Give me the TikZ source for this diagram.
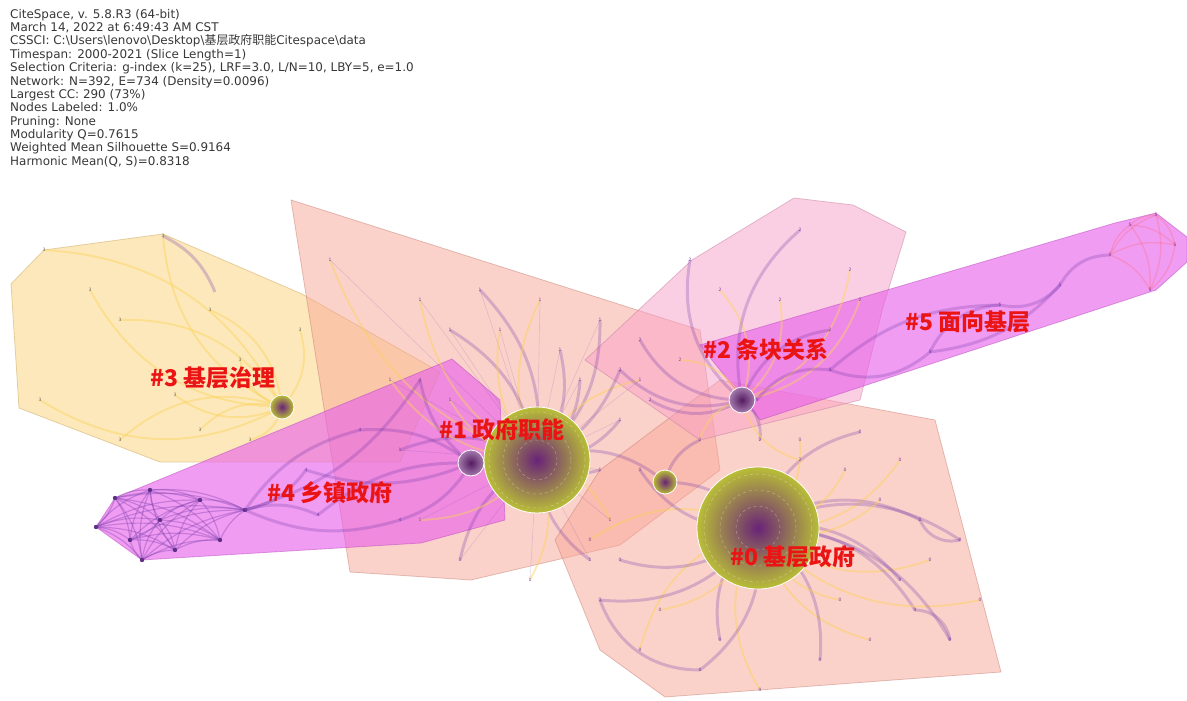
\documentclass[tikz,border=0pt]{standalone}
\usepackage{fontspec}
\setmainfont{DejaVu Sans}
\newfontfamily\cjk{Noto Sans CJK SC}
\definecolor{ylw}{RGB}{252,210,120}
\definecolor{sal}{RGB}{248,165,150}
\definecolor{pnk}{RGB}{248,160,200}
\definecolor{mag}{RGB}{232,95,236}
\definecolor{edgep}{RGB}{120,60,170}
\definecolor{edgey}{RGB}{250,210,90}
\definecolor{hdr}{RGB}{55,55,55}
\definecolor{lbl}{RGB}{235,20,20}
\definecolor{olive}{RGB}{185,190,55}
\definecolor{plum}{RGB}{105,35,120}
\tikzset{
  hull/.style={draw=#1!80!black, draw opacity=0.5, fill=#1, fill opacity=0.5, line width=0.8pt},
  pedge/.style={draw=edgep, draw opacity=0.28, line width=3pt},
  yedge/.style={draw=edgey, draw opacity=0.45, line width=2pt},
  thin edge/.style={draw=edgep, draw opacity=0.18, line width=0.6pt},
  digit/.style={font=\fontsize{4.5}{5}\selectfont, text=#1, inner sep=0pt},
  hub/.style={circle, draw=white, line width=0.8pt, inner color=plum, outer color=olive, inner sep=0pt},
  smallhub/.style={circle, draw=white, line width=0.8pt, inner color=plum!80!black, outer color=plum!60!white, inner sep=0pt},
  clabel/.style={font=\cjk\bfseries\fontsize{23}{23}\selectfont, text=lbl, inner sep=0pt},
  hdrtext/.style={font=\fontsize{11.95}{13.36}\selectfont, text=hdr, align=left, anchor=north west, inner sep=0pt}
}
\begin{document}
\begin{tikzpicture}[x=1pt,y=-1pt]
\useasboundingbox (0,0) rectangle (1187,701);
% ---- cluster hulls ----
\fill[hull=ylw] (11,284) -- (44,250) -- (163,234) -- (302,294) -- (440,372) -- (400,462) -- (160,462) -- (19,408) -- cycle;
\fill[hull=sal] (291,200) -- (700,330) -- (720,470) -- (620,545) -- (471,580) -- (350,572) -- cycle;
\fill[hull=sal] (555,540) -- (600,470) -- (720,380) -- (935,420) -- (1001,672) -- (665,697) -- (600,650) -- cycle;
\fill[hull=pnk] (585,360) -- (692,260) -- (794,198) -- (853,205) -- (906,232) -- (883,307) -- (860,400) -- (700,440) -- cycle;
\fill[hull=mag, fill opacity=0.62] (96,527) -- (115,498) -- (452,359) -- (500,400) -- (505,520) -- (421,543) -- (142,560) -- cycle;
\fill[hull=mag, fill opacity=0.62] (700,345) -- (1115,223) -- (1156,213) -- (1187,237) -- (1187,262) -- (1156,290) -- (760,420) -- cycle;
% ---- hub coordinates ----
\coordinate (h0) at (758,528);
\coordinate (h1) at (537,460);
\coordinate (h2) at (742,400);
\coordinate (h3) at (282,407);
\coordinate (h4) at (471,463);
\coordinate (hx) at (665,482);
% ---- cluster 0 spokes ----
\foreach \x/\y/\b [count=\i] in {860/432/30,900/460/-30,920/520/30,930/560/-30,915/610/30,870/640/-30,820/660/30,760/690/-30,700/670/30,640/650/-30,600/600/30,590/540/-30,640/470/30,800/440/-30,960/540/30,980/600/-30,900/580/30,840/600/-30,950/640/30,880/500/-30,720/640/-30,660/610/30,620/560/30,845/470/-30}{
  \coordinate (a0\i) at (\x,\y);
  \ifodd\i \draw[pedge] (h0) to[bend left=\b] (a0\i); \else \draw[yedge] (h0) to[bend left=\b] (a0\i); \fi
  \node[digit=edgep] at (a0\i) {0};
}
\draw[pedge] (a05) to[bend left=40] (a019);
\draw[pedge] (a03) to[bend right=40] (a015);
\draw[pedge] (a011) to[bend right=35] (a09);
% ---- cluster 1 spokes ----
\foreach \x/\y/\b [count=\i] in {420/300/25,480/290/-25,540/300/25,600/320/-25,640/380/25,620/420/-25,610/520/25,590/560/-25,530/580/25,460/560/-25,420/520/25,400/450/-25,390/380/25,450/330/-25,330/260/25,560/350/-25,500/330/25,580/380/-25,450/400/25,600/470/-25}{
  \coordinate (a1\i) at (\x,\y);
  \ifodd\i \draw[yedge] (h1) to[bend left=\b] (a1\i); \else \draw[pedge] (h1) to[bend left=\b] (a1\i); \fi
  \draw[thin edge] (h1) -- (a1\i);
  \node[digit=edgep] at (a1\i) {1};
}
% ---- cluster 2 spokes ----
\foreach \x/\y/\b [count=\i] in {690/260/30,720/290/-30,800/230/30,850/270/-30,830/330/30,680/360/-30,650/400/30,700/440/-30,760/440/30,800/460/-30,640/340/30,860/300/-30,620/370/30,780/300/-30}{
  \coordinate (a2\i) at (\x,\y);
  \ifodd\i \draw[pedge] (h2) to[bend left=\b] (a2\i); \else \draw[yedge] (h2) to[bend left=\b] (a2\i); \fi
  \node[digit=edgep] at (a2\i) {2};
}
\draw[pedge] (a213) to[bend left=20] (h1);
\draw[pedge] (a28) to[bend right=25] (hx);
\draw[pedge] (hx) to[bend left=25] (h0);
\draw[pedge] (hx) to[bend right=30] (h1);
% ---- cluster 3 spokes ----
\foreach \x/\y/\b [count=\i] in {163/236/30,44/250/-30,90/290/30,120/320/-30,175/395/30,210/310/-30,240/360/30,200/430/-30,250/440/30,120/440/-30,40/400/30,300/330/-30}{
  \coordinate (a3\i) at (\x,\y);
  \draw[yedge] (h3) to[bend left=\b] (a3\i);
  \node[digit=black!60] at (a3\i) {3};
}
\draw[pedge] (a31) to[bend left=20] (215,292);
% ---- cluster 4 mesh ----
\foreach \x/\y [count=\i] in {115/498,96/527,142/560,160/520,130/540,175/550,150/490,200/500,220/540,245/510}{
  \coordinate (a4\i) at (\x,\y);
}
\foreach \i in {1,...,10}{\foreach \j in {1,...,10}{\ifnum\i<\j \draw[thin edge, draw opacity=0.35, line width=1.2pt] (a4\i) to[bend left=15] (a4\j);\fi}}
\foreach \i in {1,...,10}{\fill[edgep!80!black] (a4\i) circle (2.2pt);}
\foreach \x/\y/\b in {306/470/-20,318/515/20,400/520/-20,360/430/20,420/380/-20}{
  \draw[pedge] (a410) to[bend left=\b] (\x,\y);
  \draw[pedge] (\x,\y) to[bend left=\b] (h4);
  \node[digit=edgep] at (\x,\y) {4};
}
% ---- cluster 5 chain ----
\foreach \x/\y [count=\i] in {757/400,830/370,930/352,1000/305,1060/285,1110/255,1130/225,1156/215,1175/245,1150/290}{
  \coordinate (a5\i) at (\x,\y);
}
\foreach \i/\j/\b in {1/2/30,2/3/-30,3/4/30,4/5/-30,5/6/30,2/4/20,3/5/-20}{\draw[pedge] (a5\i) to[bend left=\b] (a5\j);}
\foreach \i/\j in {6/7,6/8,6/9,6/10,7/8,7/9,7/10,8/9,8/10,9/10}{\draw[draw=pnk!70!red, draw opacity=0.35, line width=1.5pt] (a5\i) to[bend left=20] (a5\j);}
\foreach \i in {1,...,10}{\node[digit=edgep] at (a5\i) {5};}
% ---- hubs ----
\node[hub, minimum size=106pt] (n1) at (h1) {};
\node[hub, minimum size=122pt] (n0) at (h0) {};
\node[smallhub, minimum size=26pt] (n2) at (h2) {};
\node[smallhub, minimum size=26pt] (n4) at (h4) {};
\node[hub, minimum size=24pt] (nx) at (hx) {};
\node[hub, minimum size=24pt] (n3) at (h3) {};
\foreach \r in {20,34,48}{\draw[white, opacity=0.35, line width=0.5pt, dashed] (h1) circle (\r pt);}
\foreach \r in {22,38,54}{\draw[white, opacity=0.35, line width=0.5pt, dashed] (h0) circle (\r pt);}
% ---- labels ----
\node[clabel] (l3) at (213,378) {\#3 基层治理};
\node[clabel] (l1) at (502,430) {\#1 政府职能};
\node[clabel] (l4) at (330,493) {\#4 乡镇政府};
\node[clabel] (l2) at (766,350) {\#2 条块关系};
\node[clabel] (l5) at (968,322) {\#5 面向基层};
\node[clabel] (l0) at (793,557) {\#0 基层政府};
% ---- header ----
\node[hdrtext] (hdr) at (10,9) {CiteSpace, v. 5.8.R3 (64-bit)\\
March 14, 2022 at 6:49:43 AM CST\\
CSSCI: C:\textbackslash Users\textbackslash lenovo\textbackslash Desktop\textbackslash{\cjk 基层政府职能}Citespace\textbackslash data\\
Timespan: 2000-2021 (Slice Length=1)\\
Selection Criteria: g-index (k=25), LRF=3.0, L/N=10, LBY=5, e=1.0\\
Network: N=392, E=734 (Density=0.0096)\\
Largest CC: 290 (73\%)\\
Nodes Labeled: 1.0\%\\
Pruning: None\\
Modularity Q=0.7615\\
Weighted Mean Silhouette S=0.9164\\
Harmonic Mean(Q, S)=0.8318};
\end{tikzpicture}
\end{document}
